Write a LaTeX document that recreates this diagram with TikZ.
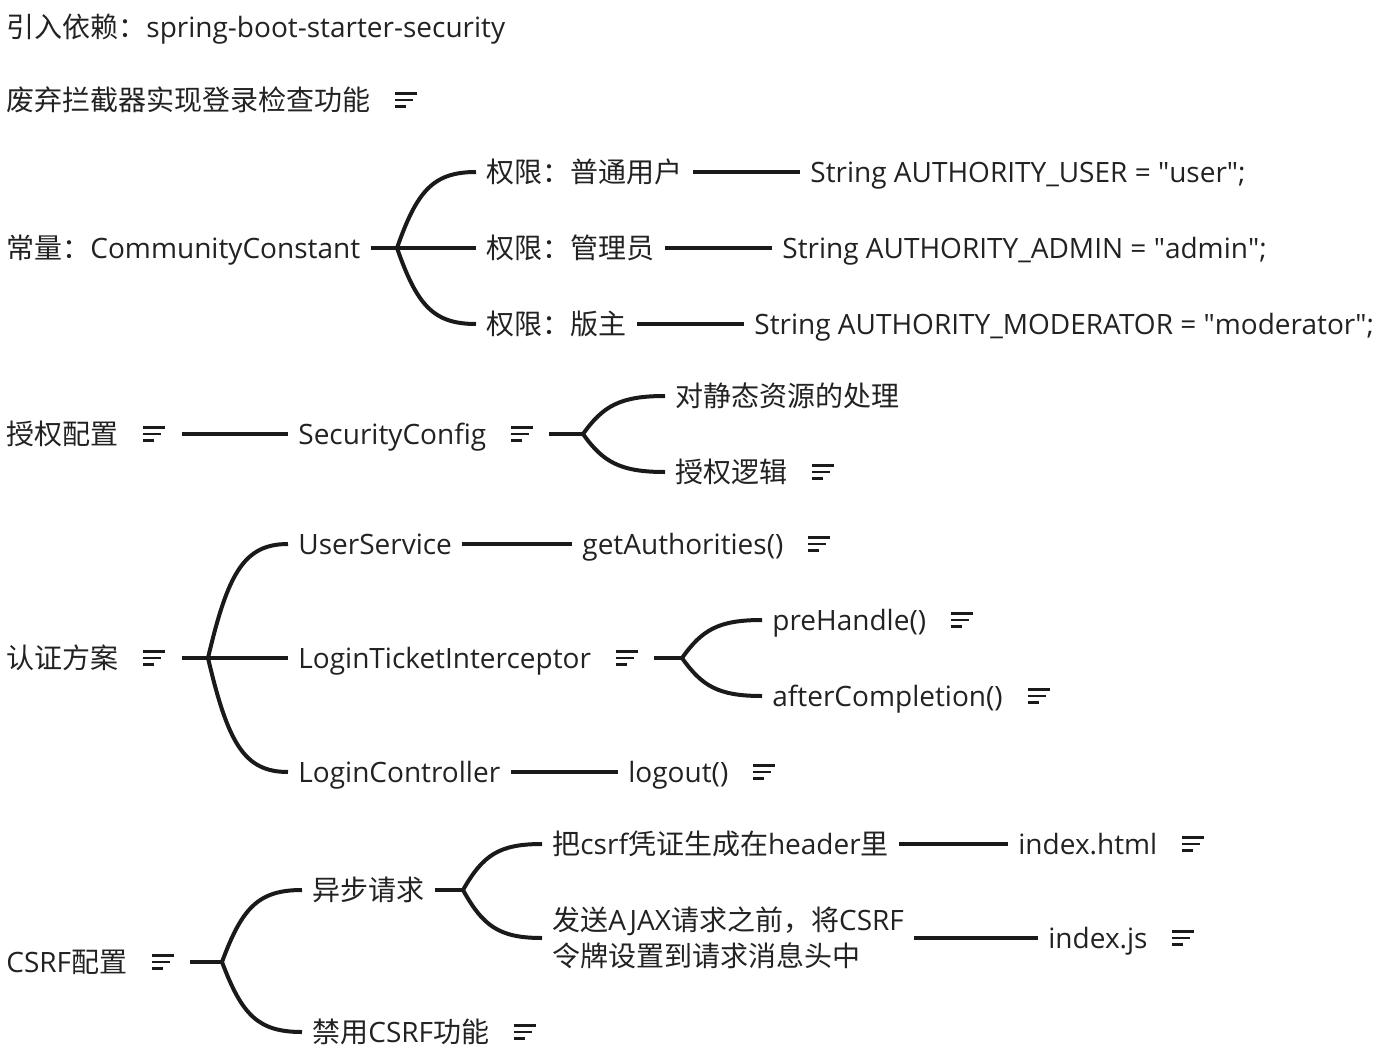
\documentclass[tikz,border=0pt]{standalone}
\usepackage{fontspec}
\setmainfont{Open Sans}
\newfontfamily\cjk{Noto Sans CJK SC}
\usetikzlibrary{positioning}
\definecolor{ink}{HTML}{1A1A1A}
\definecolor{label}{HTML}{222222}
\newcommand{\q}{\textquotedbl}
\tikzset{
  txt/.style={anchor=west,inner xsep=5pt,inner ysep=0pt,text=label,font=\fontsize{14pt}{18pt}\selectfont},
  topic/.style={txt,text height=12pt,text depth=2pt},
  note/.style={minimum width=26pt,minimum height=8pt,inner sep=0pt,
    path picture={
      \draw[ink,line width=1.2pt]
        ([xshift=7pt,yshift=-0.8pt]path picture bounding box.north west) -- ++(11pt,0)
        ([xshift=7pt]path picture bounding box.west) -- ++(9pt,0)
        ([xshift=7pt,yshift=0.8pt]path picture bounding box.south west) -- ++(5.5pt,0);
    }},
  link/.style={draw=ink,line width=2pt},
}
\begin{document}
\begin{tikzpicture}[x=0.5pt,y=-0.5pt]
  \useasboundingbox (0,0) rectangle (1376,1060);

  % loose notes
  \node[topic] (dep) at (-4,28) {{\cjk 引入依赖：}spring-boot-starter-security};
  \node[topic] (drop) at (-4,100) {\cjk 废弃拦截器实现登录检查功能};
  \node[note,right=0pt of drop] (dropN) {};

  % constants
  \node[topic] (const) at (-4,248) {{\cjk 常量：}CommunityConstant};
  \coordinate (c0) at (397,248);
  \node[topic] (roleU) at (476,172) {\cjk 权限：普通用户};
  \node[topic] (roleA) at (476,248) {\cjk 权限：管理员};
  \node[topic] (roleM) at (476,324) {\cjk 权限：版主};
  \node[topic] (valU) at (800,172) {String AUTHORITY\_USER = \q user\q;};
  \node[topic] (valA) at (772,248) {String AUTHORITY\_ADMIN = \q admin\q;};
  \node[topic] (valM) at (744,324) {String AUTHORITY\_MODERATOR = \q moderator\q;};
  \draw[link] (const.east) -- (c0);
  \draw[link] (c0) .. controls +(20,-57) and +(-43,0) .. (roleU.west);
  \draw[link] (c0) -- (roleA.west);
  \draw[link] (c0) .. controls +(20,57) and +(-43,0) .. (roleM.west);
  \draw[link] (roleU.east) -- (valU.west);
  \draw[link] (roleA.east) -- (valA.west);
  \draw[link] (roleM.east) -- (valM.west);

  % authorization
  \node[topic] (auth) at (-4,434) {\cjk 授权配置};
  \node[note,right=0pt of auth] (authN) {};
  \node[topic] (sec) at (288,434) {SecurityConfig};
  \node[note,right=0pt of sec] (secN) {};
  \coordinate (c1) at (583,434);
  \node[topic] (res) at (665,396) {\cjk 对静态资源的处理};
  \node[topic] (logic) at (665,472) {\cjk 授权逻辑};
  \node[note,right=0pt of logic] (logicN) {};
  \draw[link] (authN.east) -- (sec.west);
  \draw[link] (secN.east) -- (c1);
  \draw[link] (c1) .. controls +(20,-28) and +(-45,0) .. (res.west);
  \draw[link] (c1) .. controls +(20,28) and +(-45,0) .. (logic.west);

  % authentication
  \node[topic] (authn) at (-4,658) {\cjk 认证方案};
  \node[note,right=0pt of authn] (authnN) {};
  \coordinate (c2) at (208,658);
  \node[topic] (usr) at (288,544) {UserService};
  \node[topic] (getA) at (572,544) {getAuthorities()};
  \node[note,right=0pt of getA] (getAN) {};
  \node[topic] (lti) at (288,658) {LoginTicketInterceptor};
  \node[note,right=0pt of lti] (ltiN) {};
  \coordinate (c3) at (682,658);
  \node[topic] (pre) at (762,620) {preHandle()};
  \node[note,right=0pt of pre] (preN) {};
  \node[topic] (after) at (762,696) {afterCompletion()};
  \node[note,right=0pt of after] (afterN) {};
  \node[topic] (lc) at (288,772) {LoginController};
  \node[topic] (logout) at (618,772) {logout()};
  \node[note,right=0pt of logout] (logoutN) {};
  \draw[link] (authnN.east) -- (c2);
  \draw[link] (c2) .. controls +(20,-85) and +(-44,0) .. (usr.west);
  \draw[link] (c2) -- (lti.west);
  \draw[link] (c2) .. controls +(20,85) and +(-44,0) .. (lc.west);
  \draw[link] (usr.east) -- (getA.west);
  \draw[link] (ltiN.east) -- (c3);
  \draw[link] (c3) .. controls +(20,-28) and +(-44,0) .. (pre.west);
  \draw[link] (c3) .. controls +(20,28) and +(-44,0) .. (after.west);
  \draw[link] (lc.east) -- (logout.west);

  % csrf
  \node[topic] (csrf) at (-4,962) {CSRF{\cjk 配置}};
  \node[note,right=0pt of csrf] (csrfN) {};
  \coordinate (c4) at (222,962);
  \node[topic] (async) at (302,890) {\cjk 异步请求};
  \coordinate (c5) at (463,890);
  \node[topic] (hdr) at (542,844) {{\cjk 把}csrf{\cjk 凭证生成在}header{\cjk 里}};
  \node[topic] (html) at (1008,844) {index.html};
  \node[note,right=0pt of html] (htmlN) {};
  \node[txt,align=left] (ajax) at (542,938) {{\cjk 发送}AJAX{\cjk 请求之前，将}CSRF\\{\cjk 令牌设置到请求消息头中}};
  \node[topic] (js) at (1038,938) {index.js};
  \node[note,right=0pt of js] (jsN) {};
  \node[topic] (off) at (302,1032) {{\cjk 禁用}CSRF{\cjk 功能}};
  \node[note,right=0pt of off] (offN) {};
  \draw[link] (csrfN.east) -- (c4);
  \draw[link] (c4) .. controls +(20,-54) and +(-44,0) .. (async.west);
  \draw[link] (c4) .. controls +(20,53) and +(-44,0) .. (off.west);
  \draw[link] (async.east) -- (c5);
  \draw[link] (c5) .. controls +(20,-35) and +(-43,0) .. (hdr.west);
  \draw[link] (c5) .. controls +(20,36) and +(-43,0) .. (ajax.west);
  \draw[link] (hdr.east) -- (html.west);
  \draw[link] (ajax.east) -- (js.west);
\end{tikzpicture}
\end{document}
